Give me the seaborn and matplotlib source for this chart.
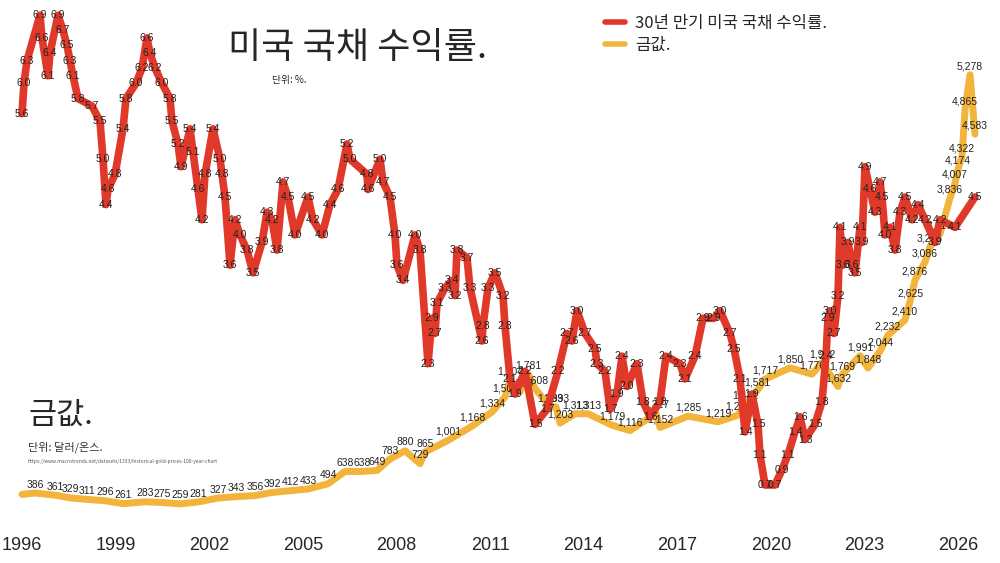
import matplotlib
matplotlib.use("Agg")
import matplotlib.pyplot as plt
import seaborn as sns
import pandas as pd

sns.set_theme(style="white")
plt.rcParams['font.family'] = ['Noto Sans CJK KR', 'DejaVu Sans']

# 30-year treasury yield (%), pixel-x read positions converted to years
yield_x = [22,24,27,40,42,48,50,58,63,67,70,73,78,92,100,103,106,108,115,123,126,136,142,147,150,155,162,170,172,178,181,190,193,198,202,205,213,220,222,225,230,235,240,247,253,262,267,272,277,283,288,295,308,313,322,330,338,347,350,367,368,380,383,390,395,397,403,415,420,428,432,435,437,445,452,455,457,467,470,482,483,488,495,503,505,510,515,525,535,547,558,567,572,577,585,595,597,605,610,617,622,627,637,643,650,660,666,680,685,695,703,714,720,730,734,740,745,752,758,760,765,775,782,788,795,800,805,815,822,826,828,830,834,838,840,843,848,852,855,860,862,865,870,875,880,882,885,890,895,900,905,912,918,925,935,940,955,975]
yield_v = [5.6,6.0,6.3,6.9,6.6,6.1,6.4,6.9,6.7,6.5,6.3,6.1,5.8,5.7,5.5,5.0,4.4,4.6,4.8,5.4,5.8,6.0,6.2,6.6,6.4,6.2,6.0,5.8,5.5,5.2,4.9,5.4,5.1,4.6,4.2,4.8,5.4,5.0,4.8,4.5,3.6,4.2,4.0,3.8,3.5,3.9,4.3,4.2,3.8,4.7,4.5,4.0,4.5,4.2,4.0,4.4,4.6,5.2,5.0,4.8,4.6,5.0,4.7,4.5,4.0,3.6,3.4,4.0,3.8,2.3,2.9,2.7,3.1,3.3,3.4,3.2,3.8,3.7,3.3,2.6,2.8,3.3,3.5,3.2,2.8,2.1,1.9,2.2,1.5,1.7,2.2,2.7,2.6,3.0,2.7,2.5,2.3,2.2,1.7,1.9,2.4,2.0,2.3,1.8,1.6,1.8,2.4,2.3,2.1,2.4,2.9,2.9,3.0,2.7,2.5,2.1,1.4,1.9,1.5,1.1,0.7,0.7,0.9,1.1,1.4,1.6,1.3,1.5,1.8,2.4,2.9,3.0,2.7,3.2,4.1,3.6,3.9,3.6,3.5,4.1,3.9,4.9,4.6,4.3,4.7,4.5,4.0,4.1,3.8,4.3,4.5,4.2,4.4,4.2,3.9,4.2,4.1,4.5]

# Gold price (USD / oz); first point is an unlabeled start
gold_x = [22,35,55,70,87,105,123,145,162,180,198,218,236,255,272,290,308,328,345,362,377,390,405,420,425,448,472,492,505,510,520,528,535,550,556,560,575,588,612,630,656,660,688,718,738,745,757,765,790,812,822,838,842,860,868,880,888,905,910,915,925,930,940,950,955,958,962,965,970,975]
gold_v = [370,386,361,329,311,296,261,283,275,259,281,327,343,356,392,412,433,494,638,638,649,783,880,729,865,1001,1168,1334,1508,1704,1568,1781,1608,1393,1393,1203,1313,1313,1179,1116,1317,1152,1285,1219,1296,1431,1581,1717,1850,1776,1912,1632,1769,1991,1848,2044,2232,2410,2625,2876,3086,3266,3416,3836,4007,4174,4322,4865,5278,4583]

def px2yr(x):
    return 1996 + (x - 22) / 31.2

dy = pd.DataFrame({"year": [px2yr(x) for x in yield_x], "v": yield_v})
dg = pd.DataFrame({"year": [px2yr(x) for x in gold_x], "v": gold_v})

RED = "#e0392a"
GOLD = "#f2b43a"
NUMF = ['Liberation Sans', 'DejaVu Sans']

fig = plt.figure(figsize=(10, 5.63), dpi=100)
ax = fig.add_axes([0, 0.08, 1, 0.92])
ax2 = ax.twinx()

sns.lineplot(data=dg, x="year", y="v", ax=ax2, color=GOLD, lw=5, label="금값.", legend=False)
sns.lineplot(data=dy, x="year", y="v", ax=ax, color=RED, lw=5.5, label="30년 만기 미국 국채 수익률.", legend=False)
ax.set_zorder(ax2.get_zorder() + 1)
ax.patch.set_visible(False)

ax.set_xlim(1996 - 22 / 31.2, 1996 + 978 / 31.2)
ax.set_ylim(0.265, 7.10)
ax2.set_ylim(94, 6152)

for i, (x, v) in enumerate(zip(dg["year"], dg["v"])):
    if i == 0:
        continue
    ax2.text(x, v + 40, f"{v:,}", fontsize=7.5, ha="center", va="bottom", color="#222", zorder=5, family=NUMF)
for x, v in zip(dy["year"], dy["v"]):
    ax.text(x, v, f"{v:.1f}", fontsize=7.5, ha="center", va="center", color="#222", zorder=5, family=NUMF)

for a in (ax, ax2):
    for s in a.spines.values():
        s.set_visible(False)
    a.set_yticks([])
    a.set_ylabel("")
ax.set_xlabel("")
ax.set_xticks(list(range(1996, 2027, 3)))
ax.set_xticklabels([str(y) for y in range(1996, 2027, 3)], fontsize=13, family=NUMF)
ax.tick_params(axis="x", length=0, pad=14)

fig.text(0.228, 0.915, "미국 국채 수익률.", fontsize=26, ha="left", va="center")
fig.text(0.272, 0.858, "단위: %.", fontsize=7, ha="left", va="center")
fig.text(0.028, 0.262, "금값.", fontsize=22, ha="left", va="center")
fig.text(0.028, 0.205, "단위: 달러/온스.", fontsize=8, ha="left", va="center", color="#333")
fig.text(0.028, 0.180, "https://www.macrotrends.net/datasets/1333/historical-gold-prices-100-year-chart", fontsize=3.5, ha="left", va="center", color="#555")

h1, l1 = ax.get_legend_handles_labels()
h2, l2 = ax2.get_legend_handles_labels()
leg = ax.legend(h1 + h2, l1 + l2, loc="upper left", bbox_to_anchor=(0.59, 1.0), frameon=False, fontsize=12, handlelength=1.2, handletextpad=0.6, labelspacing=0.3)
for line in leg.get_lines():
    line.set_linewidth(4)

fig.savefig("out.png", dpi=100)
